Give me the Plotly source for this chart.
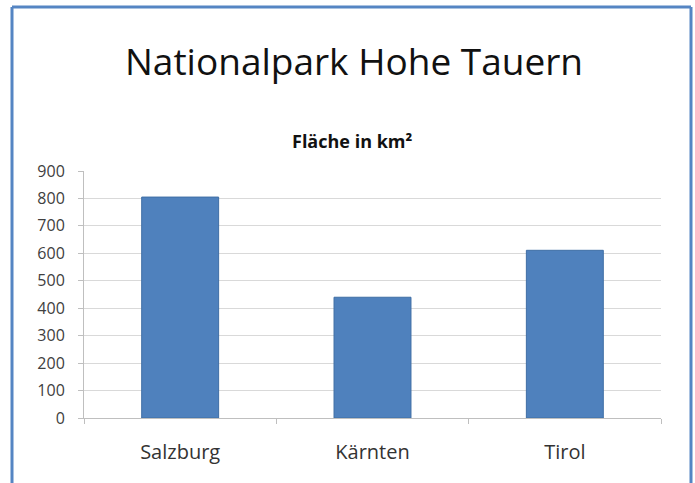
import plotly.graph_objects as go

# Fläche des Nationalparks Hohe Tauern nach Bundesland
regions = ["Salzburg", "Kärnten", "Tirol"]
area_km2 = [805, 440, 611]
y_ticks = [0, 100, 200, 300, 400, 500, 600, 700, 800, 900]

W, H = 695, 483
L, R, T, B = 84, 34, 171, 65
plot_w = W - L - R
plot_h = H - T - B


def px_x(px):
    return (px - L) / plot_w


def px_y(py):
    return (H - B - py) / plot_h


font_family = "Open Sans, Noto Sans, sans-serif"

fig = go.Figure(
    go.Bar(
        x=regions,
        y=area_km2,
        width=0.4,
        marker=dict(color="#4F81BD", line=dict(color="#3F6EA5", width=1)),
    )
)

fig.update_layout(
    width=W,
    height=H,
    margin=dict(l=L, r=R, t=T, b=B),
    paper_bgcolor="white",
    plot_bgcolor="white",
    showlegend=False,
    font=dict(family=font_family, color="#404040"),
    annotations=[
        dict(
            text="Nationalpark Hohe Tauern",
            xref="paper", yref="paper",
            x=px_x(354), y=px_y(60),
            xanchor="center", yanchor="middle",
            showarrow=False,
            font=dict(size=37, color="#111111", family=font_family, weight=500),
        ),
        dict(
            text="<b>Fläche in km²</b>",
            xref="paper", yref="paper",
            x=px_x(352), y=px_y(141),
            xanchor="center", yanchor="middle",
            showarrow=False,
            font=dict(size=18, color="#111111", family=font_family),
        ),
    ],
    shapes=[
        # blue frame (left, top, right)
        dict(type="line", xref="paper", yref="paper",
             x0=px_x(12), x1=px_x(12), y0=px_y(490), y1=px_y(7),
             line=dict(color="#5585C3", width=3)),
        dict(type="line", xref="paper", yref="paper",
             x0=px_x(12), x1=px_x(691), y0=px_y(7), y1=px_y(7),
             line=dict(color="#5585C3", width=3)),
        dict(type="line", xref="paper", yref="paper",
             x0=px_x(691), x1=px_x(691), y0=px_y(7), y1=px_y(490),
             line=dict(color="#5585C3", width=3)),
    ],
)

fig.update_xaxes(
    type="category",
    showgrid=False,
    showline=True,
    linecolor="#BFBFBF",
    linewidth=1,
    ticks="outside",
    tickson="boundaries",
    ticklen=5,
    tickcolor="#BFBFBF",
    ticklabelstandoff=16,
    tickfont=dict(size=20, color="#333333"),
)

fig.update_yaxes(
    range=[0, 900],
    tickvals=y_ticks,
    showgrid=True,
    gridcolor="#D9D9D9",
    gridwidth=1,
    showline=True,
    linecolor="#BFBFBF",
    linewidth=1,
    ticks="outside",
    ticklen=5,
    tickcolor="#BFBFBF",
    ticklabelstandoff=10,
    tickfont=dict(size=16, color="#404040"),
    zeroline=False,
)

fig.write_html("out.html")
